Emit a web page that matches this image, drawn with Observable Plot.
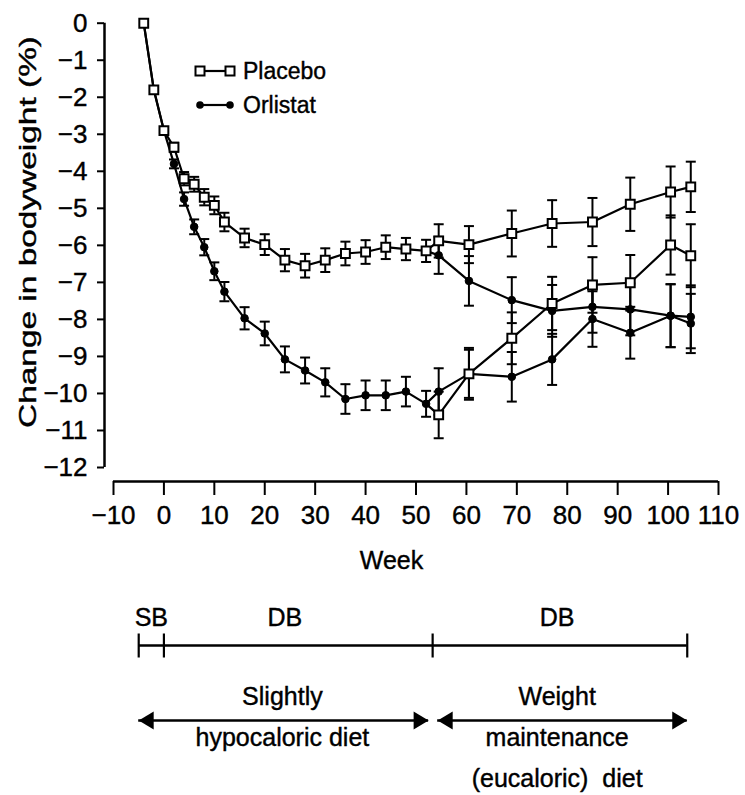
<!DOCTYPE html>
<html>
<head>
<meta charset="utf-8">
<script src="https://cdn.jsdelivr.net/npm/d3@7"></script>
<script src="https://cdn.jsdelivr.net/npm/@observablehq/plot@0.6"></script>
<style>
  body { margin: 0; background: #fff; }
  #wrap { position: relative; width: 745px; height: 795px; background: #fff; }
  #wrap svg { display: block; }
  #wrap text { stroke: black; stroke-width: 0.4px; }
  #legend { position: absolute; left: 0; top: 0; }
</style>
</head>
<body>
<div id="wrap"></div>
<script>
// ---------- data ----------
const xTicks = [-10, 0, 10, 20, 30, 40, 50, 60, 70, 80, 90, 100, 110];
const yTicks = [0, -1, -2, -3, -4, -5, -6, -7, -8, -9, -10, -11, -12];

const weeksYear1 = [-4, -2, 0, 2, 4, 6, 8, 10, 12, 16, 20, 24, 28, 32, 36, 40, 44, 48, 52];
const placeboYear1 = [0, -1.8, -2.9, -3.35, -4.2, -4.35, -4.7, -4.92, -5.37, -5.8, -5.98, -6.4, -6.55, -6.4, -6.22, -6.18, -6.05, -6.1, -6.15];
const placeboYear1Err = [0, 0.05, 0.08, 0.12, 0.18, 0.2, 0.22, 0.24, 0.25, 0.25, 0.28, 0.3, 0.32, 0.32, 0.32, 0.32, 0.32, 0.3, 0.3];
const orlistatYear1 = [0, -1.8, -2.9, -3.8, -4.75, -5.5, -6.05, -6.7, -7.25, -7.97, -8.38, -9.08, -9.38, -9.7, -10.15, -10.05, -10.05, -9.95, -10.28];
const orlistatYear1Err = [0, 0.05, 0.08, 0.12, 0.18, 0.2, 0.22, 0.24, 0.26, 0.3, 0.32, 0.35, 0.35, 0.38, 0.4, 0.4, 0.4, 0.4, 0.35];

const weeksYear2 = [54.5, 60.5, 69, 77, 85, 92.5, 100.5, 104.5];
const placeboPlacebo = [-5.88, -5.98, -5.68, -5.41, -5.37, -4.89, -4.56, -4.42];
const placeboPlaceboErr = [0.45, 0.5, 0.62, 0.63, 0.65, 0.72, 0.69, 0.68];
const placeboOrlistat = [-6.27, -6.96, -7.48, -7.77, -7.66, -7.73, -7.9, -7.93];
const placeboOrlistatErr = [0.5, 0.67, 0.62, 0.7, 0.7, 0.7, 0.85, 0.85];
const orlistatOrlistat = [-9.95, -9.47, -9.55, -9.08, -7.99, -8.36, -7.9, -8.11];
const orlistatOrlistatErr = [0.63, 0.65, 0.67, 0.69, 0.75, 0.7, 0.85, 0.8];
const orlistatPlacebo = [-10.58, -9.47, -8.51, -7.57, -7.07, -7.01, -5.99, -6.28];
const orlistatPlaceboErr = [0.63, 0.7, 0.7, 0.72, 0.75, 0.75, 0.8, 0.85];

const legendLabels = ["Placebo", "Orlistat"];

const phases = [
  {label: "SB", start: -5, end: 0, labelAt: -2.5},
  {label: "DB", start: 0, end: 53.3, labelAt: 24},
  {label: "DB", start: 53.3, end: 103.8, labelAt: 78}
];
const phaseBounds = [-5, 0, 53.3, 103.8];
const diets = [
  {label: "Slightly\nhypocaloric diet", start: -5, end: 52.5, labelAt: 23.5},
  {label: "Weight\nmaintenance\n(eucaloric)\u00a0 diet", start: 54.3, end: 103.8, labelAt: 78}
];

// ---------- build tables ----------
function rows(group, treatment, weeks, values, errs) {
  return weeks.map((w, i) => ({group, treatment, week: w, value: values[i], err: errs[i]}));
}
const pts = [
  ...rows("P1", "Placebo", weeksYear1, placeboYear1, placeboYear1Err),
  ...rows("O1", "Orlistat", weeksYear1, orlistatYear1, orlistatYear1Err),
  ...rows("PP", "Placebo", weeksYear2, placeboPlacebo, placeboPlaceboErr),
  ...rows("PO", "Orlistat", weeksYear2, placeboOrlistat, placeboOrlistatErr),
  ...rows("OO", "Orlistat", weeksYear2, orlistatOrlistat, orlistatOrlistatErr),
  ...rows("OP", "Placebo", weeksYear2, orlistatPlacebo, orlistatPlaceboErr)
];
const lastP = {week: weeksYear1.at(-1), value: placeboYear1.at(-1)};
const lastO = {week: weeksYear1.at(-1), value: orlistatYear1.at(-1)};
const lineRows = [
  ...pts.filter(d => d.group === "P1" || d.group === "O1"),
  {group: "PP", ...lastP}, ...pts.filter(d => d.group === "PP"),
  {group: "PO", ...lastP}, ...pts.filter(d => d.group === "PO"),
  {group: "OO", ...lastO}, ...pts.filter(d => d.group === "OO"),
  {group: "OP", ...lastO}, ...pts.filter(d => d.group === "OP")
];
const errRows = pts.filter(d => d.err > 0.1);

// ---------- custom symbols ----------
const capSymbol = {draw(ctx, size) { const r = Math.sqrt(size / Math.PI); ctx.moveTo(-r, 0); ctx.lineTo(r, 0); }};
const vTick = {draw(ctx, size) { const r = Math.sqrt(size / Math.PI); ctx.moveTo(0, -r); ctx.lineTo(0, r); }};
const arrowRight = {draw(ctx, size) { const r = Math.sqrt(size / Math.PI); ctx.moveTo(0, 0); ctx.lineTo(-r, -r * 0.6); ctx.lineTo(-r, r * 0.6); ctx.closePath(); }};
const arrowLeft = {draw(ctx, size) { const r = Math.sqrt(size / Math.PI); ctx.moveTo(0, 0); ctx.lineTo(r, -r * 0.6); ctx.lineTo(r, r * 0.6); ctx.closePath(); }};

const FONT = "'Liberation Sans', Arial, sans-serif";
const yTitle = "Change in bodyweight (%)";

const main = Plot.plot({
  width: 745,
  height: 585,
  marginLeft: 104,
  marginRight: 27,
  marginTop: 22,
  marginBottom: 104,
  x: {domain: [-10, 110], range: [113, 718]},
  y: {domain: [-12, 0], range: [467, 22.7]},
  style: {fontFamily: FONT, fontSize: "26px", color: "black", background: "white"},
  marks: [
    Plot.axisY(yTicks, {tickSize: 7, tickPadding: 10, strokeWidth: 2, label: null, fontSize: 26}),
    Plot.axisX(xTicks, {tickSize: 14, tickPadding: 10, strokeWidth: 2, label: null, fontSize: 26}),
    Plot.ruleX([xTicks[0]], {y1: yTicks[0], y2: yTicks.at(-1), dx: -9, strokeWidth: 2.5}),
    Plot.ruleY([yTicks.at(-1)], {x1: xTicks[0], x2: xTicks.at(-1), dy: 14, strokeWidth: 2.5}),
    Plot.text([yTitle], {frameAnchor: "left", rotate: -90, textAnchor: "start", dx: -76, dy: 176, fontSize: 24}),
    Plot.text(["Week"], {frameAnchor: "bottom", dy: 87, dx: -20, fontSize: 25}),
    // error bars
    Plot.ruleX(errRows, {x: "week", y1: d => d.value - d.err, y2: d => d.value + d.err, strokeWidth: 2, stroke: "black"}),
    Plot.dot(errRows, {x: "week", y: d => d.value - d.err, symbol: capSymbol, r: 5, stroke: "black", fill: "none", strokeWidth: 2}),
    Plot.dot(errRows, {x: "week", y: d => d.value + d.err, symbol: capSymbol, r: 5, stroke: "black", fill: "none", strokeWidth: 2}),
    // lines
    Plot.line(lineRows, {x: "week", y: "value", z: "group", stroke: "black", strokeWidth: 2.2}),
    // markers
    Plot.dot(pts.filter(d => d.treatment === "Orlistat"), {x: "week", y: "value", symbol: "circle", r: 3.8, fill: "black", stroke: "black", strokeWidth: 1}),
    Plot.dot(pts.filter(d => d.treatment === "Placebo"), {x: "week", y: "value", symbol: "square", r: 5, fill: "white", stroke: "black", strokeWidth: 2})
  ]
});

// stretch y title to the length it has in the reference
d3.select(main).selectAll("text").filter(function() { return this.textContent === yTitle; })
  .attr("textLength", 392).attr("lengthAdjust", "spacingAndGlyphs");

const timeline = Plot.plot({
  width: 745,
  height: 210,
  marginLeft: 104,
  marginRight: 27,
  marginTop: 0,
  marginBottom: 0,
  x: {domain: [-10, 110], range: [113, 718], axis: null},
  y: {type: "point", domain: ["phase", "diet"], range: [60, 135], padding: 0, axis: null},
  style: {fontFamily: FONT, fontSize: "25px", color: "black", background: "white"},
  marks: [
    Plot.ruleY(phases, {y: () => "phase", x1: "start", x2: "end", strokeWidth: 2.5}),
    Plot.dot(phaseBounds, {x: d => d, y: () => "phase", symbol: vTick, r: 12, stroke: "black", fill: "none", strokeWidth: 2.2}),
    Plot.text(phases, {x: "labelAt", y: () => "phase", text: "label", dy: -28, fontSize: 25}),
    Plot.ruleY(diets, {y: () => "diet", x1: "start", x2: "end", strokeWidth: 2.5}),
    Plot.dot(diets, {x: "start", y: () => "diet", symbol: arrowLeft, r: 15, fill: "black", stroke: "none"}),
    Plot.dot(diets, {x: "end", y: () => "diet", symbol: arrowRight, r: 15, fill: "black", stroke: "none"}),
    Plot.text(diets, {x: "labelAt", y: () => "diet", text: "label", lineAnchor: "top", lineHeight: 1.64, dy: -45, fontSize: 25})
  ]
});

const wrap = document.getElementById("wrap");
wrap.appendChild(main);
wrap.appendChild(timeline);

// legend overlay
const leg = d3.select(wrap).append("svg").attr("id", "legend")
  .attr("width", 745).attr("height", 140)
  .style("font-family", FONT);
const legY = [71, 105];
legendLabels.forEach((lab, i) => {
  const g = leg.append("g").attr("transform", `translate(0,${legY[i]})`);
  g.append("line").attr("x1", 200).attr("x2", 230).attr("stroke", "black").attr("stroke-width", 2.2);
  if (lab === "Placebo") {
    [200, 230].forEach(cx => g.append("rect").attr("x", cx - 4.5).attr("y", -4.5).attr("width", 9).attr("height", 9)
      .attr("fill", "white").attr("stroke", "black").attr("stroke-width", 2));
  } else {
    [200, 230].forEach(cx => g.append("circle").attr("cx", cx).attr("cy", 0).attr("r", 3.8).attr("fill", "black"));
  }
  g.append("text").attr("x", 243).attr("y", 8).attr("font-size", 23).text(lab);
});
</script>
</body>
</html>
